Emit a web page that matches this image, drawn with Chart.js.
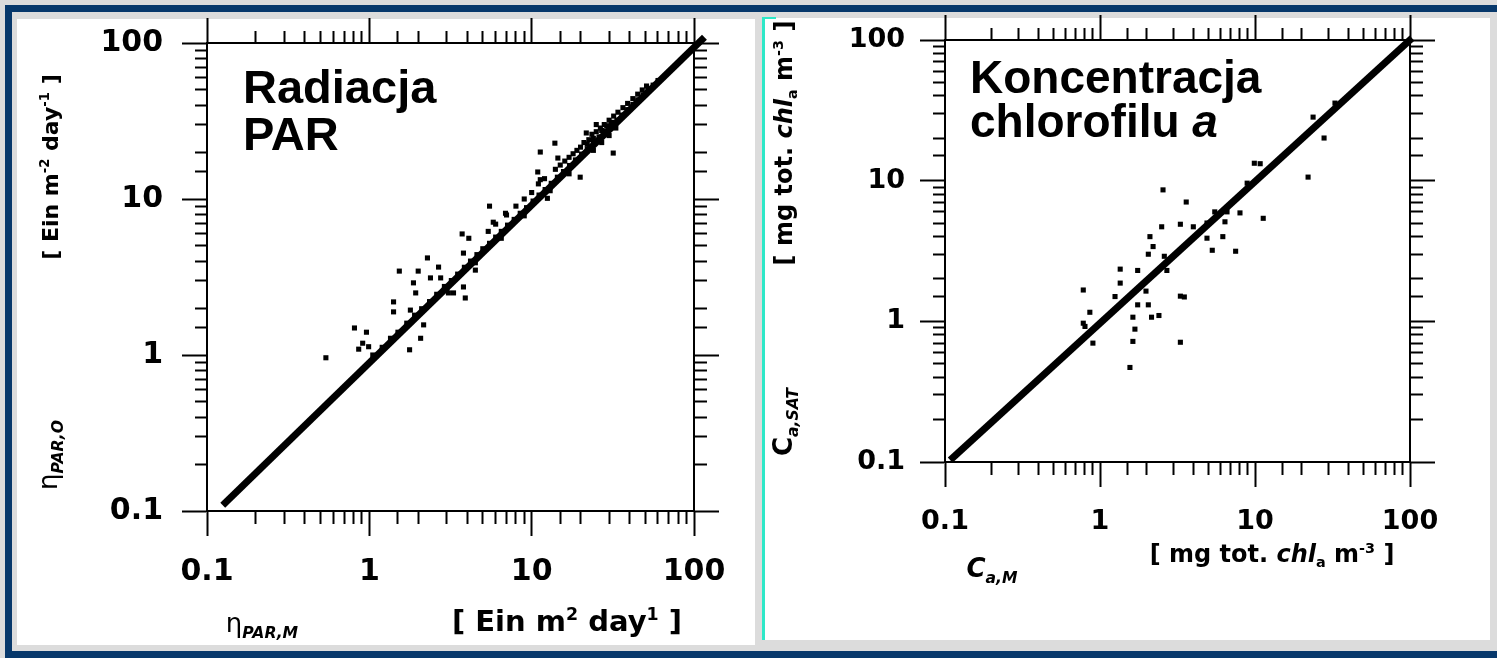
<!DOCTYPE html>
<html>
<head>
<meta charset="utf-8">
<script src="https://cdn.jsdelivr.net/npm/chart.js@4.4.1/dist/chart.umd.min.js"></script>
<style>
body { margin:0; width:1497px; height:658px; overflow:hidden; background:#dcdcdc; position:relative; font-family:"Liberation Sans", Arial, sans-serif; }
#frame { position:absolute; left:5px; top:5px; width:1500px; height:653px; border:7px solid #07386b; box-sizing:border-box; }
.panel { position:absolute; background:#fff; }
canvas { position:absolute; top:0; }
.lbl { position:absolute; white-space:nowrap; color:#000; }
.c { transform:translate(-50%,-50%); }
.rot { transform:translate(-50%,-50%) rotate(-90deg); }
.big { font-family:"Liberation Sans", Arial, sans-serif; font-weight:bold; font-size:47px; }
.ttl { font-family:"DejaVu Sans", sans-serif; font-weight:bold; }
sup, sub { font-size:60%; }
</style>
</head>
<body>
<div id="frame"></div>
<div class="panel" style="left:17px;top:19px;width:738px;height:626px"></div>
<div class="panel" style="left:765px;top:18px;width:725px;height:622px"></div>
<div class="panel" style="left:762px;top:18px;width:3px;height:622px;background:#2ee8c8"></div>
<div class="panel" style="left:762px;top:17px;width:14px;height:2px;background:#2ee8c8"></div>

<canvas id="parChart" width="760" height="658" style="left:0"></canvas>
<canvas id="chlChart" width="737" height="658" style="left:760px"></canvas>

<!-- podpisy -->
<div class="lbl big" style="left:243px;top:63px;line-height:47px">Radiacja<br>PAR</div>
<div class="lbl big" style="left:970px;top:55px;line-height:44px;font-size:46px">Koncentracja<br>chlorofilu <i>a</i></div>

<div class="lbl ttl rot" style="left:50px;top:167px;font-size:22px">[ Ein m<sup>-2</sup> day<sup>-1</sup> ]</div>
<div class="lbl ttl rot" style="left:50px;top:455px;font-size:26px;font-weight:normal">η<sub><i><b>PAR,O</b></i></sub></div>
<div class="lbl ttl c" style="left:567px;top:621px;font-size:29px">[ Ein m<sup>2</sup> day<sup>1</sup> ]</div>
<div class="lbl ttl c" style="left:262px;top:625px;font-size:26px;font-weight:normal">η<sub><i><b>PAR,M</b></i></sub></div>

<div class="lbl ttl rot" style="left:785px;top:143px;font-size:24px">[ mg tot. <i>chl</i><sub>a</sub> m<sup>-3</sup> ]</div>
<div class="lbl ttl rot" style="left:785px;top:422px;font-size:26px">C<sub><i>a,SAT</i></sub></div>
<div class="lbl ttl c" style="left:1272px;top:555px;font-size:24px">[ mg tot. <i>chl</i><sub>a</sub> m<sup>-3</sup> ]</div>
<div class="lbl ttl c" style="left:992px;top:570px;font-size:26px"><i>C</i><sub><i>a,M</i></sub></div>

<script>
// etykiety osi (skala log 0.1 - 100)
const tickValues = [0.1, 1, 10, 100];
const tickLabels = ['0.1', '1', '10', '100'];

// Radiacja PAR: model (M) vs obserwacje (O)
const parM = [0.54, 0.81, 0.96, 0.91, 0.86, 0.99, 1.41, 1.41, 1.53, 1.79, 1.87, 2.0, 1.93, 2.28, 2.38, 2.67, 2.75,
  2.07, 1.77, 2.16, 3.07, 3.3, 3.8, 3.9, 3.73, 4.1, 3.8, 4.5, 5.5, 5.8, 6.9, 11.3, 13.9, 14.5, 10.9, 11.3, 12.5,
  19.9, 21.7, 31.8, 25,
  1.05, 1.2, 1.35, 1.5, 1.7, 1.9, 2.1, 2.35, 2.6, 2.9, 3.2, 3.5, 3.85, 4.2, 4.6, 5.0, 5.5, 6.0, 6.5, 7.1, 7.8, 8.5,
  9.3, 10.2, 11.1, 12.1, 13.2, 14.4, 15.7, 17.1, 18.6, 20.3, 22, 24, 26, 28.5, 31, 33.5, 36, 39, 42, 45, 48.5, 52,
  56, 60,
  20, 21, 22.5, 23.5, 25, 26.5, 28, 30, 32, 34, 36.5, 39, 42, 45, 48, 51, 19, 22, 24, 27, 29, 31, 18, 17, 16, 15,
  14, 12, 11, 10, 9, 8, 7, 6, 5.4,
  24, 27, 30, 33, 3.0, 4.5, 6.5, 9, 13, 17];
const parO = [0.96, 1.49, 1.40, 1.19, 1.09, 1.13, 2.19, 1.89, 3.45, 1.94, 2.9, 3.45, 2.5, 4.19, 3.12, 3.66, 3.12,
  1.28, 1.08, 1.56, 2.5, 2.5, 2.73, 2.32, 5.97, 5.6, 4.5, 3.5, 9.0, 7.1, 8.1, 20, 22.8, 18.3, 14.9, 13.3, 10.1,
  13.8, 26.5, 19.7, 30,
  1.0, 1.12, 1.28, 1.4, 1.6, 1.8, 1.98, 2.2, 2.45, 2.75, 3.0, 3.3, 3.65, 4.0, 4.4, 4.8, 5.2, 5.7, 6.2, 6.8, 7.4, 8.1,
  8.8, 9.7, 10.6, 11.5, 12.6, 13.8, 15.0, 16.4, 17.8, 19.4, 21, 23, 25, 27.3, 29.7, 32, 34.5, 37.4, 40.3, 43.2, 46.5,
  50, 53.7, 57.5,
  21.5, 23, 24, 26, 27, 28.5, 30, 32, 34, 36, 38.5, 41, 44, 47, 50, 53, 20.5, 22.5, 24.5, 27.5, 29.5, 31, 19.5, 18.5,
  17.5, 16.5, 15.5, 13.5, 12.5, 11, 10, 9, 7.9, 6.9, 6.2,
  20.5, 23, 25.5, 28.5, 2.6, 3.9, 5.6, 7.8, 11.3, 14.5];
const parFitX = [0.125, 116];
const parFitY = [0.109, 109];

// Koncentracja chlorofilu a: in situ (M) vs satelita (SAT)
const chlM = [9.9, 10.8, 22, 8.9, 2.55, 3.6, 5.5, 6.6, 8.0, 11.3, 3.3, 4.0, 2.5, 4.9, 6.4, 2.1, 4.9, 6.2, 2.2, 2.05,
  2.6, 5.3, 7.5, 1.35, 1.75, 2.7, 1.35, 0.78, 1.25, 1.98, 3.3, 3.5, 0.86, 1.75, 2.05, 0.78, 1.63, 2.15, 2.4, 1.68,
  0.9, 1.63, 3.3, 1.56, 32.8, 23.7, 27.9, 0.8];
const chlSat = [13.3, 13.2, 10.6, 9.6, 8.6, 7.05, 6.0, 6.0, 5.9, 5.4, 4.9, 4.7, 4.7, 5.0, 5.1, 4.0, 3.9, 4.0, 3.4, 3.0,
  2.9, 3.2, 3.15, 2.35, 2.3, 2.3, 1.87, 1.67, 1.5, 1.64, 1.51, 1.49, 1.16, 1.31, 1.31, 0.97, 1.07, 1.07, 1.1, 0.88,
  0.70, 0.72, 0.71, 0.47, 35.6, 28.3, 20.1, 0.92];
const chlFitX = [0.108, 103];
const chlFitY = [0.103, 103];

const MAJOR = 25, MINOR = 12;

function isDecade(v) {
  const l = Math.log10(v);
  return Math.abs(l - Math.round(l)) < 1e-6;
}

function labelFor(v) {
  const i = tickValues.findIndex(t => Math.abs(Math.log10(t) - Math.log10(v)) < 1e-6);
  return i >= 0 ? tickLabels[i] : '';
}

// os logarytmiczna: krotkie kreski dla wartosci posrednich (dash), dlugie dla dekad
function logAxis(pos, showLabels, fontSize, pad, size) {
  const fromAxis = pos === 'bottom' || pos === 'right';
  const horizontal = pos === 'bottom' || pos === 'top';
  return {
    type: 'logarithmic',
    position: pos,
    min: 0.1,
    max: 100,
    border: { color: '#000', width: 2 },
    grid: {
      drawOnChartArea: false,
      drawTicks: true,
      tickLength: MAJOR,
      tickColor: '#000',
      tickWidth: 2,
      tickBorderDash: c => isDecade(c.tick.value) ? [] : (fromAxis ? [MINOR, 200] : [0, MAJOR - MINOR, MINOR, 200])
    },
    ticks: {
      autoSkip: false,
      maxRotation: 0,
      padding: pad,
      color: '#000',
      font: { family: 'DejaVu Sans', weight: 'bold', size: fontSize },
      callback: v => showLabels ? labelFor(v) : ''
    },
    afterFit: s => { if (horizontal) s.height = size; else s.width = size; }
  };
}

function makeChart(id, xs, ys, fitX, fitY, o) {
  const pts = xs.map((x, i) => ({ x: x, y: ys[i] }));
  const fit = fitX.map((x, i) => ({ x: x, y: fitY[i] }));
  return new Chart(document.getElementById(id), {
    type: 'scatter',
    data: {
      datasets: [{
        data: fit,
        showLine: true,
        borderColor: '#000',
        borderWidth: 7,
        pointRadius: 0,
        clip: false,
        order: 0
      }, {
        data: pts,
        pointStyle: 'rect',
        pointRadius: 3.6,
        pointBackgroundColor: '#000',
        pointBorderWidth: 0,
        order: 1
      }]
    },
    options: {
      responsive: false,
      animation: false,
      events: [],
      layout: { padding: o.padding },
      plugins: { legend: { display: false }, tooltip: { enabled: false } },
      scales: {
        x: logAxis('bottom', true, o.font, o.xPad, 90),
        x2: logAxis('top', false, o.font, 0, 30),
        y: logAxis('left', true, o.font, o.yPad, 130),
        y2: logAxis('right', false, o.font, 0, 40)
      }
    }
  });
}

makeChart('parChart', parM, parO, parFitX, parFitY,
  { padding: { left: 77, right: 26, top: 13, bottom: 57 }, font: 30, xPad: 18, yPad: 19 });
makeChart('chlChart', chlM, chlSat, chlFitX, chlFitY,
  { padding: { left: 55, right: 47, top: 10, bottom: 106 }, font: 27, xPad: 19, yPad: 15 });
</script>
</body>
</html>
